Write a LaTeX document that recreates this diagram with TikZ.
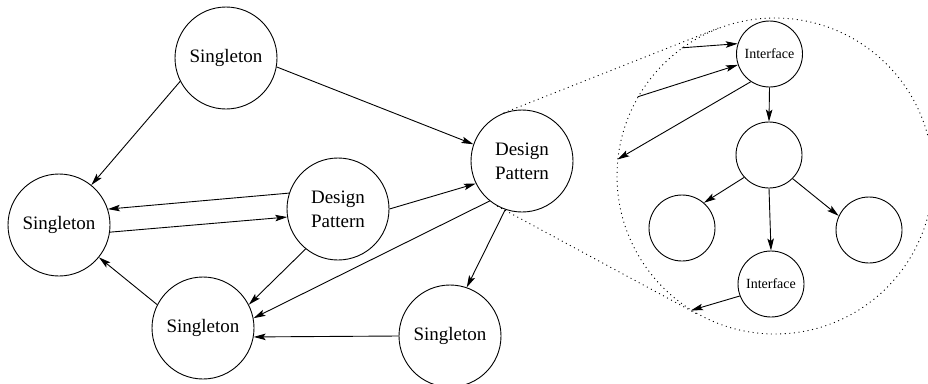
\documentclass[tikz,border=0pt]{standalone}
\usepackage{fontspec}
\setmainfont{Liberation Serif}
\usetikzlibrary{arrows.meta}
\begin{document}
\begin{tikzpicture}[x=1pt,y=-1pt,
  bigcirc/.style={circle,draw,line width=0.9pt,inner sep=0pt,minimum size=102pt,
    font=\fontsize{19}{24}\selectfont,align=center},
  smallcirc/.style={circle,draw,line width=0.9pt,inner sep=0pt,minimum size=66pt,
    font=\fontsize{14}{16}\selectfont},
  lens/.style={circle,draw,line width=0.9pt,dash pattern=on 1pt off 3.6pt,
    inner sep=0pt,minimum size=316pt},
  dotline/.style={line width=0.9pt,dash pattern=on 1pt off 3.6pt},
  link/.style={line width=0.9pt,-{Stealth[length=12pt,width=6.5pt,inset=2.5pt]}}]
\clip (0,0) rectangle (928,383);
\fill[white] (0,0) rectangle (928,383);

% main graph
\node[bigcirc] (s1) at (226,58)  {Singleton};
\node[bigcirc] (s2) at (59,225)  {Singleton};
\node[bigcirc] (dp1) at (338,209) {Design\\Pattern};
\node[bigcirc] (s3) at (203,328) {Singleton};
\node[bigcirc] (dp2) at (522,161) {Design\\Pattern};
\node[bigcirc] (s4) at (450,336) {Singleton};

% magnified view of the right pattern
\node[lens] (zoom) at (775,176) {};
\draw[dotline] (dp2.111.6) -- (zoom.111.6);
\draw[dotline] (dp2.241.6) -- (zoom.241.6);

\node[smallcirc] (i1) at (769.5,54) {Interface};
\node[smallcirc] (b1) at (769,155) {};
\node[smallcirc] (b2) at (682,228) {};
\node[smallcirc] (b3) at (869,230) {};
\node[smallcirc] (i2) at (771,284) {Interface};

% connectors of the main graph
\draw[link] (s1.207.5) -- (s2.51);
\draw[link] (s1.-10) -- (dp2.161);
\draw[link] (dp1.162) -- (s2.18);
\draw[link] (s2.-8) -- (dp1.189);
\draw[link] (dp1.0) -- (dp2.206);
\draw[link] (dp1.231) -- (s3.27.5);
\draw[link] (dp2.231) -- (s3.11);
\draw[link] (s3.153) -- (s2.-39);
\draw[link] (s4.west) -- (s3.-10);
\draw[link] (dp2.251) -- (s4.71);

% connectors inside the magnified view
\draw[link] (i1.south) -- (b1.north);
\draw[link] (b1.222.6) -- (b2.49);
\draw[link] (b1.-45) -- (b3.155);
\draw[link] (b1.south) -- (i2.north);
\draw[link] (i1.236) -- (zoom.174);
\draw[link] (zoom.126.5) -- (i1.162);
\draw[link] (zoom.150) -- (i1.199);
\draw[link] (i2.201) -- (zoom.238.6);
\end{tikzpicture}
\end{document}
